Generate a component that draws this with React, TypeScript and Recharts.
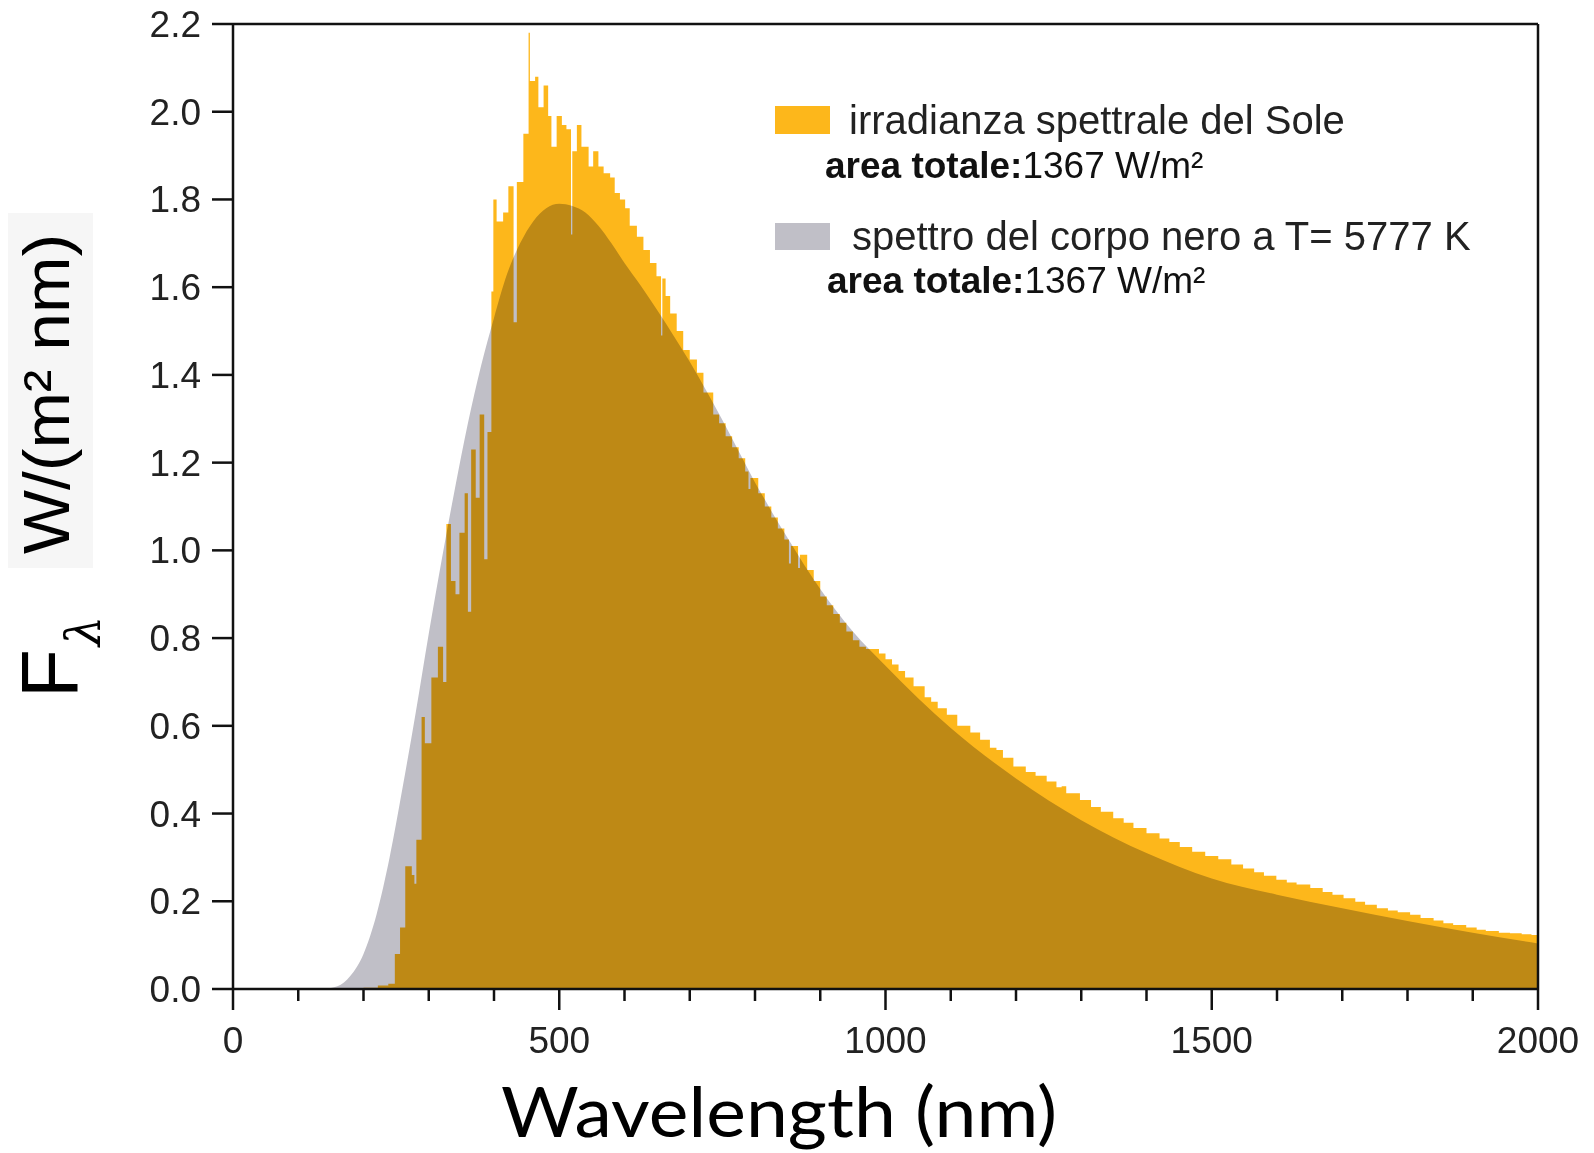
import { AreaChart, Area, XAxis, YAxis, ReferenceLine } from "recharts";

// solar spectral irradiance (stepped)
const solarNm = [
  200, 222, 238, 248, 256, 264, 274, 278, 281, 289, 294, 304, 314, 322, 327, 334, 341, 347, 355, 360,
  365, 372, 378, 385, 390, 396, 399, 404, 414, 422, 430, 435, 445, 453, 455, 463, 468, 476, 483, 488,
  496, 504, 511, 518, 520, 527, 534, 545, 552, 560, 568, 578, 585, 593, 601, 608, 619, 629, 639, 649,
  656, 658, 663, 670, 680, 690, 700, 711, 721, 736, 745, 755, 765, 775, 785, 790, 793, 805, 815, 825,
  835, 845, 852, 855, 866, 869, 880, 890, 900, 910, 920, 930, 940, 950, 960, 970, 980, 990, 1000, 1010,
  1020, 1030, 1043, 1060, 1070, 1080, 1094, 1110, 1130, 1145, 1160, 1170, 1180, 1196, 1215, 1230, 1247, 1262, 1270, 1277,
  1298, 1315, 1330, 1349, 1365, 1380, 1400, 1420, 1435, 1451, 1470, 1490, 1510, 1530, 1548, 1565, 1580, 1599, 1615, 1630,
  1651, 1670, 1685, 1702, 1720, 1735, 1753, 1770, 1785, 1804, 1820, 1840, 1855, 1870, 1890, 1906, 1920, 1940, 1957, 1975,
  1990, 2000,
];
const solarFlux = [
  0.003, 0.008, 0.012, 0.08, 0.14, 0.28, 0.26, 0.24, 0.34, 0.62, 0.56, 0.71, 0.78, 0.7, 1.06, 0.93, 0.9, 1.04, 1.13, 0.86,
  1.23, 1.12, 1.31, 0.98, 1.27, 1.59, 1.8, 1.75, 1.77, 1.83, 1.52, 1.84, 1.95, 2.18, 2.07, 2.08, 2.01, 2.06, 1.99, 1.92,
  1.99, 1.97, 1.96, 1.72, 1.91, 1.97, 1.92, 1.875, 1.91, 1.875, 1.86, 1.85, 1.815, 1.8, 1.78, 1.74, 1.715, 1.685, 1.655, 1.625,
  1.49, 1.62, 1.58, 1.54, 1.5, 1.457, 1.435, 1.405, 1.36, 1.31, 1.29, 1.26, 1.235, 1.21, 1.18, 1.14, 1.165, 1.13, 1.1, 1.075,
  1.05, 1.025, 0.97, 1.01, 0.96, 0.99, 0.955, 0.93, 0.895, 0.875, 0.855, 0.835, 0.815, 0.795, 0.78, 0.775, 0.775, 0.765, 0.752, 0.74,
  0.725, 0.71, 0.69, 0.665, 0.655, 0.64, 0.625, 0.6, 0.585, 0.568, 0.55, 0.545, 0.527, 0.507, 0.495, 0.486, 0.473, 0.46, 0.462, 0.446,
  0.431, 0.415, 0.404, 0.389, 0.379, 0.367, 0.355, 0.343, 0.335, 0.324, 0.313, 0.303, 0.296, 0.284, 0.275, 0.266, 0.258, 0.249, 0.243, 0.238,
  0.23, 0.221, 0.215, 0.207, 0.199, 0.192, 0.184, 0.179, 0.175, 0.169, 0.162, 0.156, 0.15, 0.146, 0.14, 0.135, 0.132, 0.128, 0.127, 0.125,
  0.123, 0.121,
];

// black body at T = 5777 K (smooth curve)
const bbNm = [
  140, 160, 180, 200, 220, 240, 260, 280, 300, 320, 340, 360, 380, 400, 420, 440, 460, 480, 500, 520,
  540, 560, 580, 600, 625, 650, 675, 700, 725, 750, 775, 800, 825, 850, 875, 900, 950, 1000, 1100, 1200,
  1300, 1400, 1500, 1600, 1700, 1800, 1900, 2000,
];
const bbFlux = [
  0, 0.006, 0.03, 0.08, 0.17, 0.3, 0.46, 0.63, 0.81, 0.98, 1.14, 1.29, 1.42, 1.53, 1.63, 1.7, 1.75, 1.78, 1.79, 1.785,
  1.77, 1.74, 1.7, 1.655, 1.603, 1.548, 1.49, 1.43, 1.365, 1.297, 1.226, 1.155, 1.09, 1.028, 0.968, 0.912, 0.815, 0.737, 0.595, 0.48,
  0.385, 0.31, 0.252, 0.215, 0.184, 0.155, 0.128, 0.104,
];

const xTicks = [
  0, 100, 200, 300, 400, 500, 600, 700, 800, 900, 1000, 1100, 1200, 1300, 1400, 1500, 1600, 1700, 1800, 1900, 2000,
];
const yTicks = [0, 0.2, 0.4, 0.6, 0.8, 1.0, 1.2, 1.4, 1.6, 1.8, 2.0, 2.2];

const solarData = solarNm.map((nm, i) => ({ nm, v: solarFlux[i] }));
const bbData = bbNm.map((nm, i) => ({ nm, v: bbFlux[i] }));

const ORANGE = "#fdb71b";
const GRAY = "#c0bfc7";
const AXIS = "#111";
const SANS = "'Liberation Sans', Arial, sans-serif";

const XTick = (props: any) => {
  const { x, y, payload } = props;
  const major = payload.value % 500 === 0;
  return (
    <g>
      <line x1={x} x2={x} y1={y} y2={y + (major ? 21 : 12)} stroke={AXIS} strokeWidth={2.5} />
      {major && (
        <text x={x} y={y + 64} textAnchor="middle" fontSize={37} fontFamily={SANS} fill="#222">
          {payload.value}
        </text>
      )}
    </g>
  );
};

const YTick = (props: any) => {
  const { x, y, payload } = props;
  return (
    <g>
      <line x1={x - 21} x2={x} y1={y} y2={y} stroke={AXIS} strokeWidth={2.5} />
      <text x={x - 32} y={y + 13} textAnchor="end" fontSize={37} fontFamily={SANS} fill="#222">
        {payload.value.toFixed(1)}
      </text>
    </g>
  );
};

export default function App() {
  return (
    <div style={{ position: "relative", width: 1594, height: 1153, background: "#fff" }}>
      <style>{`body{margin:0} .recharts-area{mix-blend-mode:multiply}`}</style>
      <AreaChart width={1594} height={1153} margin={{ top: 24, right: 56, left: 0, bottom: 0 }}>
        <XAxis
          dataKey="nm"
          type="number"
          domain={[0, 2000]}
          ticks={xTicks}
          interval={0}
          height={164}
          tickSize={0}
          tickMargin={0}
          tickLine={false}
          tick={<XTick />}
          axisLine={{ stroke: AXIS, strokeWidth: 2.5 }}
        />
        <YAxis
          type="number"
          domain={[0, 2.2]}
          ticks={yTicks}
          interval={0}
          width={233}
          tickSize={0}
          tickMargin={0}
          tickLine={false}
          tick={<YTick />}
          axisLine={{ stroke: AXIS, strokeWidth: 2.5 }}
        />
        <Area
          data={solarData}
          dataKey="v"
          type="stepAfter"
          fill={ORANGE}
          fillOpacity={1}
          stroke="none"
          isAnimationActive={false}
        />
        <Area
          data={bbData}
          dataKey="v"
          type="monotone"
          fill={GRAY}
          fillOpacity={1}
          stroke="none"
          isAnimationActive={false}
          style={{ mixBlendMode: "multiply" }}
        />
        <ReferenceLine y={2.2} stroke={AXIS} strokeWidth={2.5} />
        <ReferenceLine x={2000} stroke={AXIS} strokeWidth={2.5} />
      </AreaChart>

      <svg
        width={1594}
        height={1153}
        style={{ position: "absolute", left: 0, top: 0, pointerEvents: "none" }}
      >
        {/* legend */}
        <rect x={775} y={106} width={55} height={28} fill={ORANGE} />
        <text x={849} y={134} fontSize={40} fontFamily={SANS} fill="#222">
          irradianza spettrale del Sole
        </text>
        <text x={825} y={178} fontSize={37} fontFamily={SANS} fill="#111">
          <tspan fontWeight="bold">area totale:</tspan>1367 W/m²
        </text>
        <rect x={775} y={223} width={55} height={27} fill={GRAY} />
        <text x={852} y={250} fontSize={40} fontFamily={SANS} fill="#222">
          spettro del corpo nero a T= 5777 K
        </text>
        <text x={827} y={293} fontSize={37} fontFamily={SANS} fill="#111">
          <tspan fontWeight="bold">area totale:</tspan>1367 W/m²
        </text>

        {/* y title */}
        <rect x={8} y={213} width={85} height={355} fill="#f6f6f6" />
        <text
          transform="translate(69, 394) rotate(-90)"
          textAnchor="middle"
          fontSize={64}
          fontFamily={SANS}
          fill="#000"
          textLength={320}
          lengthAdjust="spacingAndGlyphs"
        >
          W/(m² nm)
        </text>
        <text transform="translate(77, 698) rotate(-90)" fontSize={80} fontFamily={SANS} fill="#000">
          F
          <tspan fontSize={48} dy={23} dx={3} fontFamily="'DejaVu Serif', serif" fontStyle="italic">
            λ
          </tspan>
        </text>

        {/* x title */}
        <text
          x={779}
          y={1137}
          textAnchor="middle"
          fontSize={70}
          fontWeight={400}
          fontFamily="Lato, 'Open Sans', sans-serif"
          fill="#000"
          textLength={556}
          lengthAdjust="spacingAndGlyphs"
        >
          Wavelength (nm)
        </text>
      </svg>
    </div>
  );
}
